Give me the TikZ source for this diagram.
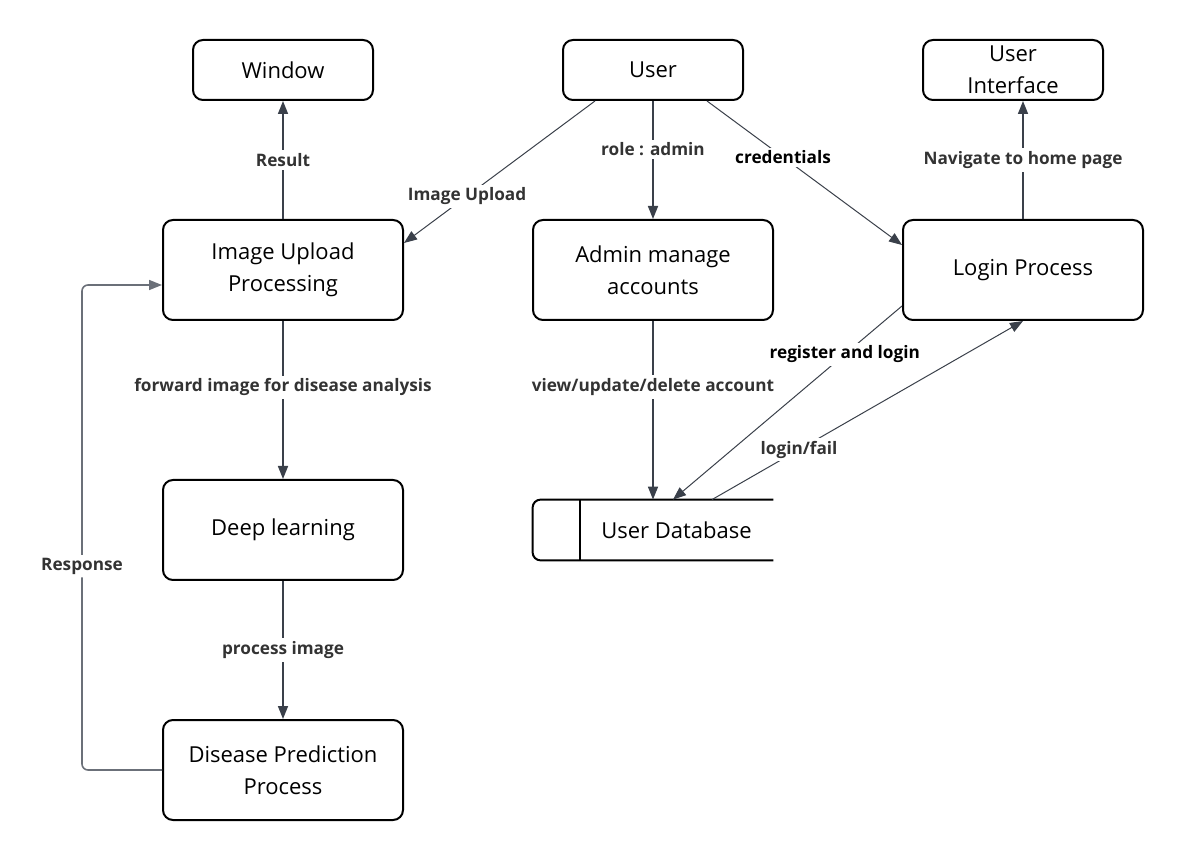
\documentclass[tikz,border=0pt]{standalone}
\usepackage{fontspec}
\setmainfont{Open Sans}
\usetikzlibrary{arrows.meta,calc}

\definecolor{edgegray}{HTML}{3A404A}
\definecolor{labelgray}{HTML}{333333}
\definecolor{loopgray}{HTML}{6B7079}

\begin{document}
\begin{tikzpicture}[x=0.5pt,y=-0.5pt,
    proc/.style={draw=black,line width=1pt,rounded corners=5pt,align=center,
                 font=\fontsize{11}{16}\selectfont,inner sep=0pt},
    smallbox/.style={proc,minimum width=90pt,minimum height=30pt},
    bigbox/.style={proc,minimum width=120pt,minimum height=50pt},
    flow/.style={draw=edgegray,line width=0.8pt,-{Triangle[length=6.5pt,width=5pt]}},
    thinflow/.style={draw=edgegray,line width=0.5pt,-{Triangle[length=6.5pt,width=5pt]}},
    lbl/.style={fill=white,text=labelgray,font=\fontsize{8.6}{10}\selectfont\bfseries,inner sep=1.5pt},
    lblk/.style={lbl,text=black}]
  \useasboundingbox (0,0) rectangle (1183,860);

% top row
  \node[smallbox] (window) at (283,70)  {Window};
  \node[smallbox] (user)   at (653,70)  {User};
  \node[smallbox] (ui)     at (1013,70) {User\\Interface};

% process boxes
  \node[bigbox] (upload)  at (283,270)  {Image Upload\\Processing};
  \node[bigbox] (admin)   at (653,270)  {Admin manage\\accounts};
  \node[bigbox] (login)   at (1023,270) {Login Process};
  \node[bigbox] (deep)    at (283,530)  {Deep learning};
  \node[bigbox] (predict) at (283,770)  {Disease Prediction\\Process};

% data store, open on the right
  \node[minimum width=120pt,minimum height=30pt,inner sep=0pt,
        font=\fontsize{11}{13}\selectfont] (db) at (653,530) {\hspace{23.5pt}User Database};
  \draw[line width=1pt,rounded corners=4pt] (db.north east) -- (db.north west)
        -- (db.south west) -- (db.south east);
  \draw[line width=1pt] ($(db.north west)+(47,0)$) -- ($(db.south west)+(47,0)$);

% connectors
  \draw[flow] (upload) -- node[lbl] {Result} (window);
  \draw[thinflow] ([xshift=16.5pt]user.south west) -- node[lbl,pos=0.67] {Image Upload} ([yshift=13.5pt]upload.east);
  \draw[flow] (user) -- node[lbl,pos=0.41] {role : admin} (admin);
  \draw[thinflow] ([xshift=-18.5pt]user.south east) -- node[lblk,pos=0.39] {credentials} ([yshift=12.5pt]login.west);
  \draw[flow] (login.north) -- node[lbl] {Navigate to home page} (login.north |- ui.south);
  \draw[flow] (upload) -- node[lbl,pos=0.42] {forward image for disease analysis} (deep);
  \draw[flow] (deep) -- node[lbl] {process image} (predict);
  \draw[flow] (admin) -- node[lbl,pos=0.37] {view/update/delete account} (db);
  \draw[thinflow] ([yshift=7.5pt]login.south west) -- node[lblk,pos=0.25] {register and login} ([xshift=10pt]db.north);
  \draw[thinflow] ([xshift=29.5pt]db.north) -- node[lbl,pos=0.28] {login/fail} (login.south);
  \draw[flow,draw=loopgray,rounded corners=3pt] (predict.west) -- ++(-80,0)
        |- node[lbl,pos=0.21] {Response} ([yshift=-7.5pt]upload.west);
\end{tikzpicture}
\end{document}
